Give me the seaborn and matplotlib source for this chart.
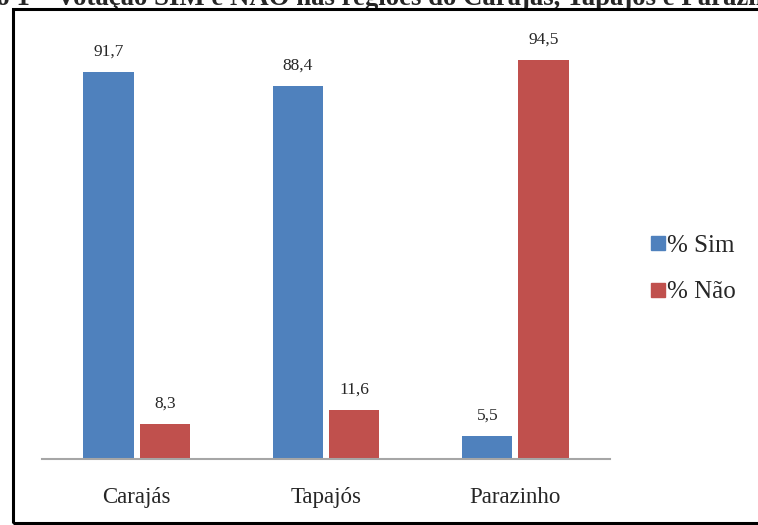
import matplotlib
matplotlib.use("Agg")
import matplotlib.pyplot as plt
import seaborn as sns
import pandas as pd
from matplotlib.patches import Rectangle
from matplotlib.lines import Line2D

regions = ["Carajás", "Tapajós", "Parazinho"]
pct_sim = [91.7, 88.4, 5.5]
pct_nao = [8.3, 11.6, 94.5]
series = ["% Sim", "% Não"]
colors = ["#4F81BD", "#C0504D"]
title = "Gráfico 1 – Votação SIM e NÃO nas regiões do Carajás, Tapajós e Parazinho"

df = pd.DataFrame({
    "regiao": regions * 2,
    "serie": [series[0]] * 3 + [series[1]] * 3,
    "valor": pct_sim + pct_nao,
})

sns.set_theme(style="white")
plt.rcParams["font.family"] = ["Liberation Serif", "DejaVu Serif"]

W, H = 758, 525
fig = plt.figure(figsize=(W / 100, H / 100), dpi=100)
ax = fig.add_axes([42 / W, 1 - 459 / H, 568 / W, 422 / H])

sns.barplot(data=df, x="regiao", y="valor", hue="serie", order=regions,
            hue_order=series, palette=colors, width=0.593, gap=0.105,
            linewidth=0, saturation=1, ax=ax, legend=False)

ax.set_ylim(0, 100)
ax.set_xlim(-0.5, 2.5)
ax.set_xlabel("")
ax.set_ylabel("")
ax.set_yticks([])
ax.tick_params(axis="x", length=0, pad=20, labelsize=16.5)
for side in ["top", "left", "right"]:
    ax.spines[side].set_visible(False)
ax.spines["bottom"].set_color("#A6A6A6")
ax.spines["bottom"].set_linewidth(1.5)

for cont in ax.containers:
    labels = [f"{v:.1f}".replace(".", ",") for v in cont.datavalues]
    ax.bar_label(cont, labels=labels, padding=9, fontsize=12.5)

# legend on the right
handles = [Line2D([], [], marker="s", linestyle="", markersize=10.5,
                  markerfacecolor=c, markeredgecolor=c) for c in colors]
fig.legend(handles, series, loc="center left", bbox_to_anchor=(623 / W, 1 - 269 / H),
           frameon=False, fontsize=18, handletextpad=-0.15, labelspacing=0.95,
           handlelength=1.0)

# outer frame
fig.patches.append(Rectangle((13 / W, 1 - 523 / H), 760 / W, 514 / H,
                             transform=fig.transFigure, fill=False,
                             edgecolor="black", linewidth=2.2, zorder=10))

# caption line above the frame
fig.text(-78 / W, 1 - 5 / H, title, ha="left", va="baseline",
         fontsize=19.3, fontweight="bold")

fig.savefig("out.png", dpi=100)
